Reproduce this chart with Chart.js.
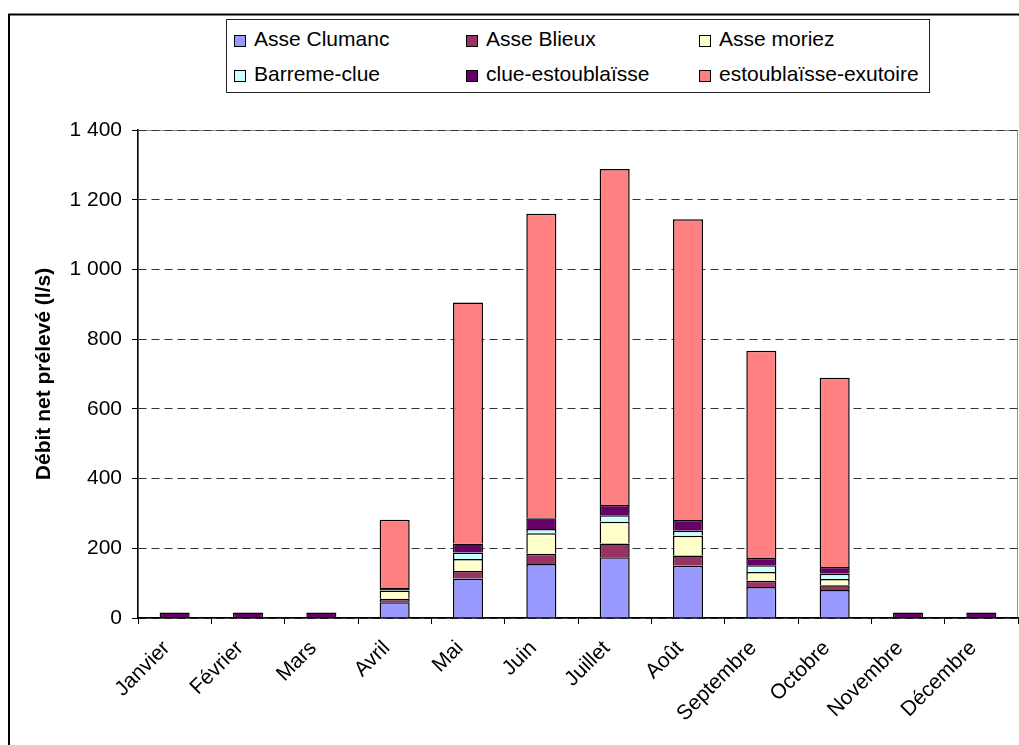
<!DOCTYPE html>
<html>
<head>
<meta charset="utf-8">
<script src="https://cdn.jsdelivr.net/npm/chart.js@4/dist/chart.umd.min.js"></script>
<style>
  body { margin: 0; background: #fff; }
  #wrap { position: relative; width: 1019px; height: 745px; }
  #legende {
    position: absolute; left: 226px; top: 19px; width: 702px; height: 72px;
    border: 1px solid #222; background: #fff;
    font-family: 'Liberation Sans', Arial, sans-serif; font-size: 21px; color: #000;
  }
  .item { position: absolute; white-space: nowrap; line-height: 24px; }
  .item span.box {
    display: inline-block; width: 10px; height: 10px; border: 1.5px solid #000;
    margin-right: 8px; vertical-align: -1px;
  }
</style>
</head>
<body>
<div id="wrap">
  <canvas id="graphe" width="1019" height="745"></canvas>
  <div id="legende"></div>
</div>
<script>
// débits nets prélevés par tronçon (l/s)
var mois = ['Janvier', 'Février', 'Mars', 'Avril', 'Mai', 'Juin', 'Juillet', 'Août', 'Septembre', 'Octobre', 'Novembre', 'Décembre'];

var asseClumanc = [null, null, null, 45, 113, 155, 174, 150, 89, 80, null, null];
var asseBlieux = [null, null, null, 10, 22, 29, 40, 29, 18, 14, null, null];
var asseMoriez = [null, null, null, 24, 34, 59, 62, 57, 25, 18, null, null];
var barremeClue = [null, null, null, 1, 19, 12, 19, 14, 19, 15, null, null];
var clueEstoublaisse = [16, 16, 16, 6, 26, 31, 29, 31, 21, 19, 16, 16];
var estoublaisseExutoire = [null, null, null, 196, 691, 874, 964, 863, 595, 543, null, null];

var noms = ['Asse Clumanc', 'Asse Blieux', 'Asse moriez', 'Barreme-clue', 'clue-estoublaïsse', 'estoublaïsse-exutoire'];
var couleurs = ['#9999FF', '#993366', '#FFFFCC', '#CCFFFF', '#660066', '#FF8080'];
var series = [asseClumanc, asseBlieux, asseMoriez, barremeClue, clueEstoublaisse, estoublaisseExutoire];

var yTicks = [0, 200, 400, 600, 800, 1000, 1200, 1400];

var police = "'Liberation Sans', Arial, sans-serif";

// cadre gris de la zone de tracé + cadre extérieur
var cadrePlugin = {
    id: 'cadre',
    beforeDraw: function (chart) {
        var ctx = chart.ctx;
        var a = chart.chartArea;
        ctx.save();
        ctx.fillStyle = '#fff';
        ctx.fillRect(0, 0, chart.width, chart.height);
        ctx.strokeStyle = '#909090';
        ctx.lineWidth = 1;
        ctx.strokeRect(a.left, a.top + 0.5, a.right - a.left - 0.5, a.bottom - a.top);
        ctx.restore();
    },
    afterDraw: function (chart) {
        var ctx = chart.ctx;
        ctx.save();
        ctx.strokeStyle = '#000';
        ctx.lineWidth = 2;
        ctx.strokeRect(9, 14.5, 1200, 1000);
        ctx.restore();
    }
};

var datasets = [];
series.forEach(function (valeurs, i) {
    datasets.push({
        label: noms[i],
        data: valeurs,
        backgroundColor: couleurs[i],
        borderColor: '#000',
        borderWidth: 1.5,
        categoryPercentage: 1,
        barPercentage: 0.41
    });
});

var ctx = document.getElementById('graphe').getContext('2d');
var graphe = new Chart(ctx, {
    type: 'bar',
    data: { labels: mois, datasets: datasets },
    options: {
        responsive: false,
        animation: false,
        layout: { padding: { top: 130, right: 1, bottom: 0, left: 0 } },
        plugins: {
            legend: { display: false },
            tooltip: { enabled: false }
        },
        scales: {
            x: {
                stacked: true,
                grid: { offset: true, drawOnChartArea: false, tickLength: 6, color: '#000', lineWidth: 1 },
                border: { color: '#000', width: 1.5 },
                ticks: {
                    autoSkip: false, minRotation: 45, maxRotation: 45, padding: 12, labelOffset: -8,
                    color: '#000', font: { family: police, size: 21 }
                },
                afterFit: function (scale) { scale.height = 127; }
            },
            y: {
                stacked: true,
                min: 0,
                max: 1400,
                afterBuildTicks: function (scale) {
                    scale.ticks = yTicks.map(function (v) { return { value: v }; });
                },
                grid: { color: '#333', lineWidth: 1, tickLength: 6, tickColor: '#000' },
                border: { color: '#000', width: 1.5, dash: [8, 5] },
                ticks: {
                    padding: 10, color: '#000', font: { family: police, size: 21 },
                    callback: function (v) { return v >= 1000 ? Math.floor(v / 1000) + ' ' + String(v % 1000).padStart(3, '0') : String(v); }
                },
                title: {
                    display: true, text: 'Débit net prélevé (l/s)', color: '#000',
                    font: { family: police, size: 21, weight: 'bold' },
                    padding: { top: 32, bottom: 0 }
                },
                afterFit: function (scale) { scale.width = 138; }
            }
        }
    },
    plugins: [cadrePlugin]
});

// légende sur 3 colonnes, 2 lignes
var legende = document.getElementById('legende');
var colX = [7, 239, 472];
var rowY = [7, 42];
noms.forEach(function (nom, i) {
    var d = document.createElement('div');
    d.className = 'item';
    d.style.left = colX[i % 3] + 'px';
    d.style.top = rowY[Math.floor(i / 3)] + 'px';
    d.innerHTML = '<span class="box" style="background:' + couleurs[i] + '"></span>' + nom;
    legende.appendChild(d);
});
</script>
</body>
</html>
